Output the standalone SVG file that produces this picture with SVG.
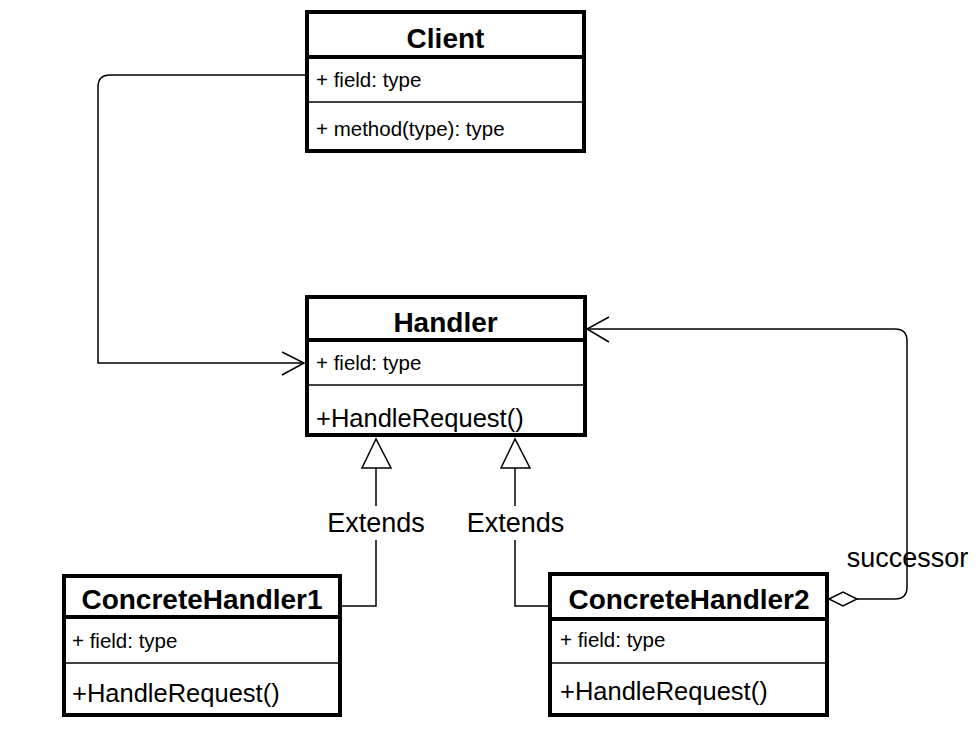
<svg xmlns="http://www.w3.org/2000/svg" width="976" height="734" viewBox="0 0 976 734">
  <style>
    .box { fill: #ffffff; stroke: #000000; stroke-width: 4; }
    .sep { stroke: #000000; stroke-width: 4; }
    .thin { stroke: #000000; stroke-width: 1.5; }
    .title { font-family: "Liberation Sans", Arial, sans-serif; font-weight: bold; font-size: 28px; text-anchor: middle; fill: #000; }
    .attr { font-family: "Liberation Sans", Arial, sans-serif; font-size: 20.5px; fill: #000; }
    .op { font-family: "Liberation Sans", Arial, sans-serif; font-size: 25.5px; fill: #000; }
    .lbl { font-family: "Liberation Sans", Arial, sans-serif; font-size: 27px; fill: #000; text-anchor: middle; }
    .wire { fill: none; stroke: #000000; stroke-width: 1.5; }
    .head { fill: #ffffff; stroke: #000000; stroke-width: 1.5; }
  </style>
  <rect width="976" height="734" fill="#ffffff"/>

  <g id="connectors">
    <!-- Client uses Handler -->
    <path class="wire" d="M307 75 H110 Q98 75 98 87 V363 H304"/>
    <path class="wire" d="M282 352 L304 363 L282 375"/>
    <!-- ConcreteHandler1 extends Handler -->
    <path class="wire" d="M376 468 V506 M376 540 V606 H342"/>
    <polygon class="head" points="376,439 362,468 391,468"/>
    <text class="lbl" x="376" y="532">Extends</text>
    <!-- ConcreteHandler2 extends Handler -->
    <path class="wire" d="M515 468 V506 M515 540 V606 H548"/>
    <polygon class="head" points="515,439 501,468 530,468"/>
    <text class="lbl" x="515.5" y="532">Extends</text>
    <!-- successor aggregation -->
    <path class="wire" d="M857 599 H895 Q907 599 907 587 V341 Q907 329 895 329 H587"/>
    <path class="wire" d="M609 317 L587 329 L609 342"/>
    <polygon class="head" points="829,599 843,592 857,599 843,606"/>
    <text class="lbl" x="907.5" y="567">successor</text>
  </g>

  <g id="client">
    <rect class="box" x="307" y="12" width="277" height="139"/>
    <line class="sep" x1="307" y1="57" x2="584" y2="57"/>
    <line class="thin" x1="307" y1="102" x2="584" y2="102"/>
    <text class="title" x="445.5" y="48">Client</text>
    <text class="attr" x="316" y="87">+ field: type</text>
    <text class="attr" x="316" y="136">+ method(type): type</text>
  </g>

  <g id="handler">
    <rect class="box" x="307" y="297" width="278" height="138"/>
    <line class="sep" x1="307" y1="340" x2="585" y2="340"/>
    <line class="thin" x1="307" y1="385" x2="585" y2="385"/>
    <text class="title" x="445.5" y="332">Handler</text>
    <text class="attr" x="316" y="370">+ field: type</text>
    <text class="op" x="316" y="427">+HandleRequest()</text>
  </g>

  <g id="concrete-handler-1">
    <rect class="box" x="64" y="576" width="276" height="139"/>
    <line class="sep" x1="64" y1="617" x2="340" y2="617"/>
    <line class="thin" x1="64" y1="663" x2="340" y2="663"/>
    <text class="title" x="202" y="609">ConcreteHandler1</text>
    <text class="attr" x="72" y="648">+ field: type</text>
    <text class="op" x="72" y="702">+HandleRequest()</text>
  </g>

  <g id="concrete-handler-2">
    <rect class="box" x="550" y="574" width="277" height="141"/>
    <line class="sep" x1="550" y1="619" x2="827" y2="619"/>
    <line class="thin" x1="550" y1="663" x2="827" y2="663"/>
    <text class="title" x="689" y="609">ConcreteHandler2</text>
    <text class="attr" x="560" y="647">+ field: type</text>
    <text class="op" x="560" y="700">+HandleRequest()</text>
  </g>
</svg>
